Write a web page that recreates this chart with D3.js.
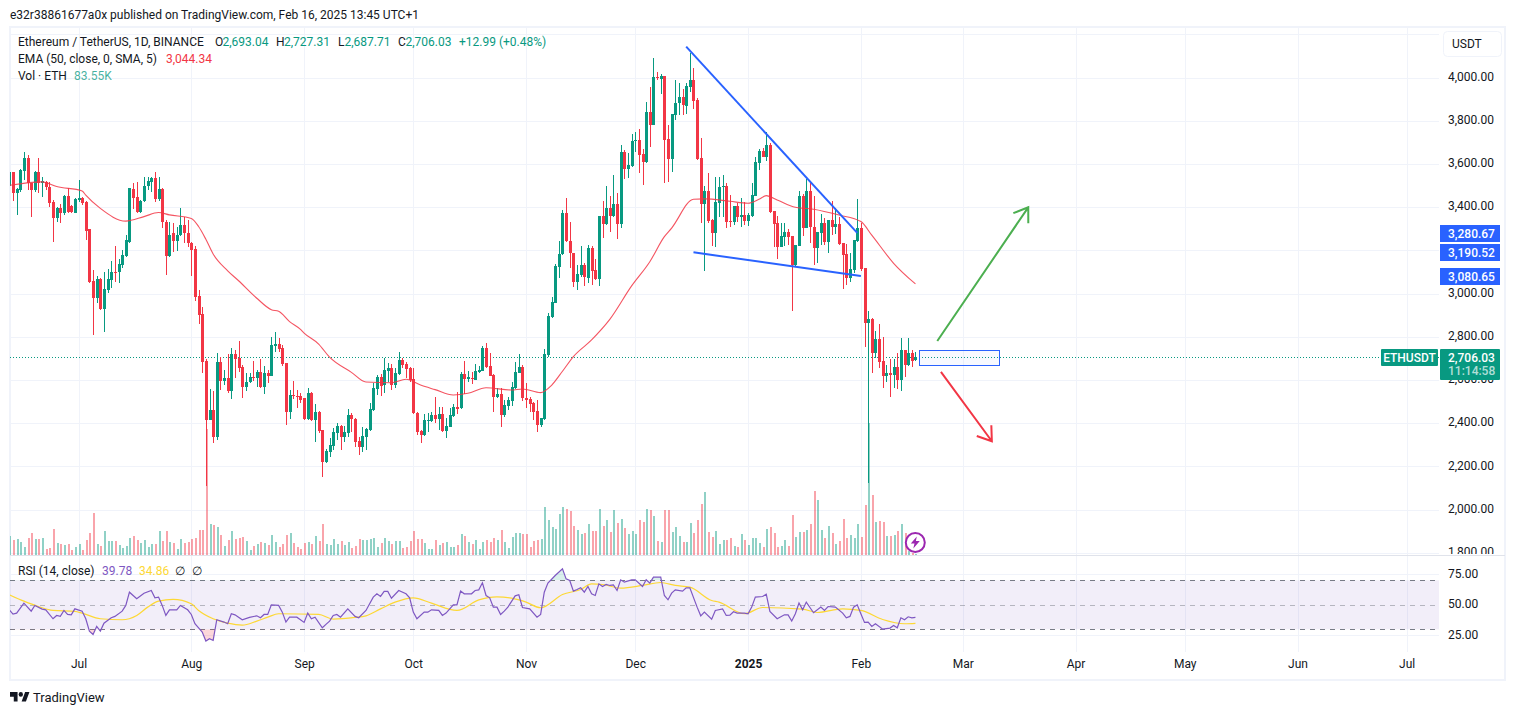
<!DOCTYPE html>
<html>
<head>
<meta charset="utf-8">
<title>ETHUSDT</title>
<script src="https://cdn.jsdelivr.net/npm/d3@7"></script>
<style>
	html, body { margin: 0; padding: 0; background: #fff; overflow: hidden; }
	svg { display: block; }
	text { font-family: Roboto, "Noto Sans", sans-serif; font-size: 12px; fill: #131722; }
</style>
</head>
<body>
<svg id="chart" width="1515" height="715"></svg>
<script>
// ========== DATA ==========
// first bar is Jun 12 2024, one per day, last is Feb 16 2025
var firstBar = -1;
var opens = [3498,
	3561,3467,3479,3569,3626,3513,3479,3561,3512,3518,3495,3425,3348,3394,3371,3451,3405,3375,3433,3441,
	3425,3297,3059,2981,3066,2928,3016,3062,3100,3098,3132,3175,3240,3484,3445,3379,3428,3498,3518,3535,
	3438,3484,3333,3175,3279,3245,3271,3317,3279,3232,3206,2988,2905,2689,2414,2461,2337,2683,2597,2609,
	2549,2720,2703,2660,2567,2589,2613,2609,2637,2566,2632,2620,2757,2766,2749,2678,2453,2529,2526,2526,
	2515,2419,2538,2414,2451,2368,2220,2268,2296,2355,2387,2334,2356,2438,2419,2317,2291,2337,2368,2461,
	2558,2613,2576,2643,2655,2576,2629,2692,2674,2653,2603,2447,2364,2343,2410,2411,2438,2419,2442,2364,
	2384,2434,2476,2468,2627,2604,2610,2600,2635,2641,2746,2664,2623,2522,2536,2438,2481,2503,2563,2634,
	2661,2516,2512,2495,2456,2391,2419,2715,2889,2957,3124,3182,3374,3243,3186,3055,3086,3132,3073,3209,
	3109,3069,3359,3322,3397,3360,3414,3323,3655,3578,3590,3706,3710,3644,3609,3840,3782,4002,3993,4007,
	3715,3624,3828,3880,3910,3870,3956,3988,3896,3627,3414,3474,3340,3282,3421,3493,3498,3336,3333,3405,
	3356,3362,3336,3359,3451,3604,3658,3633,3686,3382,3326,3217,3262,3285,3265,3130,3220,3451,3305,3476,
	3309,3212,3281,3325,3238,3340,3308,3323,3232,3183,3073,3109,3243,3303,3118,2865,2880,2726,2789,2687,
	2618,2632,2623,2660,2600,2738,2669,2724,2693.04];
var highs = [3561,
	3561,3490,3575,3655,3640,3513,3565,3627,3541,3520,3518,3433,3400,3415,3455,3487,3410,3442,3525,3445,
	3428,3300,3109,3081,3072,3098,3112,3150,3220,3160,3201,3271,3490,3513,3515,3432,3541,3541,3541,3561,
	3541,3490,3340,3333,3325,3310,3394,3356,3340,3240,3220,3016,2936,2695,2558,2549,2726,2705,2646,2720,
	2749,2738,2780,2667,2630,2630,2689,2645,2697,2664,2646,2799,2822,2794,2762,2680,2553,2595,2553,2538,
	2515,2561,2545,2488,2455,2370,2280,2330,2376,2402,2390,2387,2465,2445,2422,2337,2384,2376,2492,2584,
	2623,2626,2703,2677,2674,2655,2728,2703,2684,2661,2654,2450,2368,2442,2445,2450,2521,2476,2476,2422,
	2468,2488,2546,2638,2688,2643,2638,2674,2666,2757,2769,2723,2626,2561,2561,2507,2522,2592,2684,2720,
	2669,2584,2522,2498,2507,2425,2743,2911,2985,3136,3243,3387,3441,3333,3186,3132,3220,3140,3225,3220,
	3158,3359,3428,3498,3451,3549,3464,3686,3664,3649,3737,3749,3762,3669,3887,3956,4089,4024,4016,4007,
	3780,3831,3988,3973,3945,3976,4112,4042,3904,3718,3498,3559,3345,3541,3541,3549,3513,3456,3405,3417,
	3441,3425,3371,3510,3630,3667,3672,3746,3698,3382,3359,3325,3325,3297,3265,3225,3476,3460,3528,3510,
	3451,3285,3370,3348,3340,3430,3394,3356,3232,3230,3186,3246,3436,3325,3118,2919,2885,2826,2857,2800,
	2669,2697,2695,2723,2792,2738,2792,2738,2727.31];
var lows = [3490,
	3428,3363,3470,3525,3479,3356,3470,3464,3448,3480,3402,3240,3333,3328,3365,3371,3375,3371,3425,3410,
	3248,3050,2808,2958,2924,2823,3004,3027,3055,3047,3117,3167,3235,3390,3371,3371,3425,3480,3471,3425,
	3430,3302,3086,3170,3194,3197,3265,3235,3217,3081,2965,2859,2633,2111,2414,2310,2322,2553,2576,2541,
	2513,2609,2638,2518,2550,2585,2597,2565,2561,2536,2584,2618,2731,2728,2664,2391,2419,2510,2472,2495,
	2415,2414,2410,2311,2353,2152,2215,2242,2275,2322,2275,2314,2337,2360,2291,2252,2268,2275,2365,2458,
	2530,2527,2541,2589,2553,2561,2625,2654,2607,2592,2442,2345,2309,2342,2360,2407,2399,2368,2360,2330,
	2380,2430,2442,2465,2535,2592,2581,2598,2633,2640,2654,2618,2451,2515,2383,2430,2461,2481,2560,2630,
	2504,2468,2453,2414,2360,2384,2415,2708,2885,2955,3070,3178,3240,3117,3032,3016,3078,3035,3047,3040,
	3063,3035,3259,3317,3286,3356,3254,3302,3532,3536,3585,3657,3556,3504,3605,3680,3780,3988,3924,3513,
	3518,3564,3803,3826,3826,3831,3934,3853,3618,3325,3106,3325,3220,3217,3356,3356,3305,3309,3317,3333,
	3309,3317,3312,3356,3450,3572,3630,3615,3375,3214,3161,3215,3220,3225,2921,3124,3218,3266,3303,3232,
	3132,3140,3225,3225,3189,3271,3274,3225,3021,3039,3055,3093,3240,3106,2754,2124,2634,2700,2657,2564,
	2592,2522,2561,2556,2550,2615,2664,2661,2687.71];
var closes = [3561,
	3467,3484,3572,3626,3510,3479,3561,3510,3520,3495,3420,3348,3394,3371,3451,3379,3379,3438,3441,3420,
	3291,3055,2981,3066,2928,3019,3066,3098,3096,3137,3178,3250,3487,3441,3379,3428,3498,3521,3535,3438,
	3484,3333,3175,3270,3245,3271,3317,3279,3232,3201,2985,2900,2684,2414,2461,2337,2683,2597,2609,2549,
	2720,2697,2657,2567,2589,2613,2609,2637,2566,2632,2618,2762,2766,2743,2674,2453,2530,2526,2523,2507,
	2419,2538,2414,2450,2363,2220,2271,2299,2359,2387,2337,2359,2438,2418,2314,2291,2340,2373,2465,2562,
	2613,2573,2646,2655,2576,2632,2692,2669,2650,2600,2445,2359,2345,2414,2414,2438,2419,2442,2364,2388,
	2438,2473,2465,2627,2604,2613,2604,2643,2646,2749,2658,2620,2522,2536,2438,2484,2507,2567,2637,2661,
	2515,2507,2490,2453,2391,2422,2720,2896,2961,3127,3182,3374,3243,3186,3055,3090,3132,3078,3209,3106,
	3069,3359,3322,3397,3360,3414,3323,3655,3578,3594,3706,3710,3641,3609,3840,3782,4002,3999,4007,3712,
	3624,3831,3880,3910,3871,3961,3988,3891,3621,3414,3474,3336,3282,3424,3493,3498,3333,3333,3405,3356,
	3362,3336,3362,3454,3609,3658,3633,3686,3379,3323,3217,3265,3285,3262,3130,3225,3451,3304,3476,3306,
	3212,3285,3325,3238,3340,3308,3323,3229,3178,3073,3112,3246,3303,3115,2865,2880,2726,2789,2684,2618,
	2632,2623,2660,2600,2738,2669,2724,2689,2706.03];
// volume in thousands of ETH
var volumes = [440,
	360,373,327,227,407,507,380,380,393,173,193,580,307,280,253,280,160,213,280,160,
	360,507,907,280,240,540,340,340,340,260,207,240,393,447,360,307,360,227,280,280,
	540,340,540,313,293,180,380,293,320,380,407,560,560,2580,680,660,627,460,240,360,
	540,380,393,420,340,160,247,280,327,307,260,460,327,213,280,460,500,307,213,173,
	293,320,280,440,340,680,280,260,373,273,333,260,320,193,240,380,360,360,373,393,
	227,293,393,340,273,340,340,207,227,340,540,380,380,293,180,180,360,260,307,313,
	227,213,260,473,447,327,280,360,180,320,360,320,407,360,560,313,200,420,500,500,
	473,480,220,340,360,380,1020,760,620,580,880,1014,980,940,640,560,480,500,680,540,
	540,980,640,760,520,960,700,780,600,480,540,480,760,720,980,960,840,340,320,960,
	960,520,620,440,320,320,700,500,760,1080,1320,520,420,540,280,360,360,400,240,213,
	480,360,260,400,400,300,220,580,620,500,220,233,360,240,860,420,520,520,560,680,
	1340,1160,560,400,640,500,280,340,780,400,453,400,680,427,1060,2700,1260,720,740,720,
	440,440,460,540,680,507,133,93,83.55];

// EMA 50, as bar number and value
var emaBars = [-1,8,12,19,20,24,31,36,40,43,49,51,53,55,59,62,67,71,73,76,79,80,84,87,93,97,104,108,112,116,121,125,130,137,140,145,148,151,154,159,164,170,175,179,181,187,190,197,202,205,207,210,215,220,227,233,236,242,248];
var emaValues = [3501,3517,3495,3475,3455,3394,3335,3356,3375,3364,3347,3310,3251,3183,3105,3059,2978,2925,2918,2870,2834,2817,2766,2705,2635,2590,2587,2603,2576,2555,2530,2538,2564,2553,2558,2541,2575,2640,2708,2785,2880,3035,3147,3263,3303,3436,3438,3427,3418,3436,3453,3433,3399,3390,3363,3333,3270,3140,3044.34];

var rsiBars = [-1,0,1,3,5,6,8,9,11,12,13,14,15,16,17,19,20,21,22,23,24,25,27,28,30,31,32,34,36,38,39,40,41,42,43,45,46,48,49,50,51,52,53,54,55,56,58,59,60,61,63,65,67,68,69,70,71,73,74,75,76,78,80,81,82,83,85,86,87,88,89,90,92,94,95,97,99,100,101,102,103,104,106,108,109,110,111,113,114,115,117,118,119,121,122,123,124,126,127,128,129,130,131,132,133,134,135,136,138,139,140,142,144,145,146,147,149,151,152,153,154,155,156,157,158,159,160,161,162,163,164,165,166,167,168,170,171,173,174,175,176,178,179,180,181,182,184,185,186,188,189,190,192,193,195,196,197,198,199,201,202,203,204,206,207,208,210,212,213,214,215,216,217,218,220,222,223,224,226,228,229,230,231,232,233,234,235,236,237,239,241,242,243,244,245,246,247,248];
var rsiValues = [45.9,42.4,43.2,51.4,44.8,49.5,46.5,45.9,38.6,41.3,40.5,45.4,42.1,41.8,46.7,44.8,38.6,28.5,25.8,32.3,28.5,35,39.4,40.5,44.8,49.5,60.3,54.9,59.5,61.7,55.7,56.3,49.5,41.3,45.9,45.9,49.5,45.9,42.1,34.5,31.2,27.7,20.4,22.3,20.9,37.8,35.9,34.5,42.7,41.8,37.8,39.7,41,39.4,42.1,42.1,50,49.5,44,35.9,39.9,39.9,35.6,43.2,38.6,39.9,31.2,34,36.7,41.3,42.1,39.9,46.7,40.5,39.4,45.4,56.3,59,56.8,60.9,60.9,55.4,61.7,59,55.7,44,38.6,44,44,45.9,45.4,41.3,43.2,50,50,61.2,59,59,61.7,62.2,68,57.6,55.7,48.1,48.1,42.1,44.8,48.1,57.3,58.2,47.8,46.7,39.9,42.1,60.3,67.7,73.9,79.4,71.2,69.9,61.2,62.5,63.9,60.3,65,59,57.6,67.1,65,66.6,65.8,66.3,61.7,70.4,68.5,70.4,70.4,65,70.4,67.7,72.6,72.6,57.6,54.1,59.5,62.2,61.2,63.9,63.9,48.1,41,44,38.3,45.4,46.7,41.3,41.6,44.3,43.2,43.2,42.7,48.1,56.3,56.8,58.7,44.6,38.6,41.8,41.8,36.7,42.7,51.4,45.9,52.2,43.5,48.1,45.4,48.6,48.1,43.2,39.4,40.5,48.1,50,42.7,35.6,35.9,32.3,34.5,30.1,31,33.1,31.2,39.4,37.8,40.2,39.4,39.78];
var rsiMaBars = [-1,3,7,11,17,19,24,30,34,37,40,44,49,51,55,59,63,67,70,73,84,88,94,97,101,105,110,115,122,128,133,137,141,145,151,156,159,162,167,173,178,182,186,192,194,201,206,217,221,228,233,239,245,248];
var rsiMaValues = [58.2,53,48.6,45.4,44.6,43.2,38.6,37.8,41.3,48.1,53,54.4,50.8,45.4,38.6,35,33.4,36.7,39.9,42.7,42.1,38.3,39.7,41,46.7,52.2,55.7,51.4,45.4,54,56.5,55.4,52.2,47.6,58.4,62.5,67.1,66.6,63.6,65.8,68.2,65.8,64.4,53.5,52.2,42.7,47.8,46.5,43.7,46.7,45.4,38,34.5,34.86];

var priceTicks = [1800,2000,2200,2400,2600,2800,3000,3200,3400,3600,3800,4000];
var priceGrid = [1800,2000,2200,2400,2600,2800,3000,3200,3400,3600,3800,4000,4200];
var rsiTicks = [25,50,75];
var monthBars = [18,49,80,110,141,171,202,233,261,292,322,353,383];
var monthLabels = ['Jul','Aug','Sep','Oct','Nov','Dec','2025','Feb','Mar','Apr','May','Jun','Jul'];

// drawings: bar number and price of each end
var trendTop = [[185,4142.6],[232,3280.67]];
var trendBottom = [[187,3190.52],[233,3080.65]];
var boxBars = [249,271];
var boxPrices = [2737,2670];
var arrowUp = [[254,2780],[279,3399]];
var arrowDown = [[255,2637],[269,2316]];
var priceTags = [3280.67,3190.52,3080.65];
var lastPrice = 2706.03;

// ========== CONSTANTS ==========
var up = '#089981';
var down = '#f23645';
var blue = '#2962ff';
var grid = '#f0f3fa';
var ink = '#131722';
var plotLeft = 10;
var plotRight = 1439;
var frameRight = 1505;
var priceTop = 27;
var priceBottom = 555;
var rsiBottom = 652;

var fmt = d3.format(',.2f');

var x = d3.scaleLinear().domain([0, 383]).range([13, 1406.7]);
var y = d3.scaleLinear().domain([4000, 1800]).range([77.5, 552.7]);
var yVol = d3.scaleLinear().domain([60, 2700]).range([555, 423]);
var yRsi = d3.scaleLinear().domain([75, 25]).range([574.2, 635.4]);

var svg = d3.select('#chart');
var defs = svg.append('defs');
defs.append('clipPath').attr('id', 'clipPrice').append('rect')
	.attr('x', plotLeft).attr('y', priceTop).attr('width', plotRight - plotLeft).attr('height', priceBottom - priceTop);
defs.append('clipPath').attr('id', 'clipRsi').append('rect')
	.attr('x', plotLeft).attr('y', 556).attr('width', plotRight - plotLeft).attr('height', rsiBottom - 556);
defs.append('clipPath').attr('id', 'clipAbove').append('rect')
	.attr('x', plotLeft).attr('y', 556).attr('width', plotRight - plotLeft).attr('height', yRsi(70) - 556);
defs.append('clipPath').attr('id', 'clipBelow').append('rect')
	.attr('x', plotLeft).attr('y', yRsi(30)).attr('width', plotRight - plotLeft).attr('height', rsiBottom - yRsi(30));
defs.append('clipPath').attr('id', 'clipAxis').append('rect')
	.attr('x', 0).attr('y', priceTop).attr('width', 65).attr('height', priceBottom - priceTop);

// ========== FRAME AND GRID ==========
svg.append('rect')
	.attr('x', 10).attr('y', 27).attr('width', frameRight - 10).attr('height', 653)
	.attr('fill', '#fff').attr('stroke', grid).attr('stroke-width', 2);

svg.append('g').selectAll('line')
	.data(monthBars).enter().append('line')
	.attr('x1', function(d) { return Math.round(x(d)) + 0.5; })
	.attr('x2', function(d) { return Math.round(x(d)) + 0.5; })
	.attr('y1', priceTop).attr('y2', rsiBottom)
	.attr('stroke', grid);

svg.append('g').selectAll('line')
	.data(priceGrid).enter().append('line')
	.attr('x1', plotLeft).attr('x2', plotRight)
	.attr('y1', function(d) { return Math.round(y(d)) + 0.5; })
	.attr('y2', function(d) { return Math.round(y(d)) + 0.5; })
	.attr('stroke', grid);

svg.append('g').selectAll('line')
	.data(rsiTicks.filter(function(d) { return d !== 50; })).enter().append('line')
	.attr('x1', plotLeft).attr('x2', plotRight)
	.attr('y1', function(d) { return Math.round(yRsi(d)) + 0.5; })
	.attr('y2', function(d) { return Math.round(yRsi(d)) + 0.5; })
	.attr('stroke', grid);

// pane separator
svg.append('line')
	.attr('x1', plotLeft).attr('x2', frameRight)
	.attr('y1', 555.5).attr('y2', 555.5)
	.attr('stroke', '#e0e3eb');

// ========== CANDLES ==========
var bars = opens.map(function(o, k) {
	return { i: k + firstBar, o: o, h: highs[k], l: lows[k], c: closes[k], v: volumes[k] };
});
function cx(d) { return Math.round(x(d.i)); }

var pricePane = svg.append('g').attr('clip-path', 'url(#clipPrice)');

// volume sits behind the candles
pricePane.append('g').selectAll('rect')
	.data(bars).enter().append('rect')
	.attr('x', function(d) { return cx(d); })
	.attr('width', 2)
	.attr('y', function(d) { return yVol(d.v); })
	.attr('height', function(d) { return 555 - yVol(d.v); })
	.attr('fill', function(d) { return d.c >= d.o ? up : down; })
	.attr('fill-opacity', 0.45)
	.attr('shape-rendering', 'crispEdges');

// last price line
pricePane.append('line')
	.attr('x1', plotLeft).attr('x2', plotRight)
	.attr('y1', Math.round(y(lastPrice)) + 0.5).attr('y2', Math.round(y(lastPrice)) + 0.5)
	.attr('stroke', up)
	.attr('stroke-dasharray', '1,2');

// box drawing
pricePane.append('rect')
	.attr('x', Math.round(x(boxBars[0])) + 0.5)
	.attr('y', Math.round(y(boxPrices[0])) + 0.5)
	.attr('width', Math.round(x(boxBars[1])) - Math.round(x(boxBars[0])))
	.attr('height', Math.round(y(boxPrices[1])) - Math.round(y(boxPrices[0])))
	.attr('fill', blue).attr('fill-opacity', 0.04)
	.attr('stroke', blue);

pricePane.append('g').selectAll('rect')
	.data(bars).enter().append('rect')
	.attr('x', function(d) { return cx(d); })
	.attr('width', 1)
	.attr('y', function(d) { return y(d.h); })
	.attr('height', function(d) { return y(d.l) - y(d.h); })
	.attr('fill', function(d) { return d.c >= d.o ? up : down; })
	.attr('shape-rendering', 'crispEdges');

pricePane.append('g').selectAll('rect')
	.data(bars).enter().append('rect')
	.attr('x', function(d) { return cx(d) - 1; })
	.attr('width', 3)
	.attr('y', function(d) { return Math.round(y(Math.max(d.o, d.c))); })
	.attr('height', function(d) { return Math.max(1, Math.round(y(Math.min(d.o, d.c))) - Math.round(y(Math.max(d.o, d.c)))); })
	.attr('fill', function(d) { return d.c >= d.o ? up : down; })
	.attr('shape-rendering', 'crispEdges');

// ema
var emaLine = d3.line()
	.x(function(d) { return x(d); })
	.y(function(d, k) { return y(emaValues[k]); })
	.curve(d3.curveMonotoneX);
pricePane.append('path')
	.attr('d', emaLine(emaBars))
	.attr('fill', 'none')
	.attr('stroke', down)
	.attr('stroke-opacity', 0.85)
	.attr('stroke-width', 1.1);

// trend lines
[trendTop, trendBottom].forEach(function(t) {
	pricePane.append('line')
		.attr('x1', x(t[0][0])).attr('y1', y(t[0][1]))
		.attr('x2', x(t[1][0])).attr('y2', y(t[1][1]))
		.attr('stroke', blue).attr('stroke-width', 2);
});

// arrows
function drawArrow(a, color) {
	var x1 = x(a[0][0]), y1 = y(a[0][1]), x2 = x(a[1][0]), y2 = y(a[1][1]);
	var ang = Math.atan2(y2 - y1, x2 - x1);
	var len = 16;
	var spread = 0.6;
	var path = d3.path();
	path.moveTo(x1, y1);
	path.lineTo(x2, y2);
	path.moveTo(x2 - len * Math.cos(ang - spread), y2 - len * Math.sin(ang - spread));
	path.lineTo(x2, y2);
	path.lineTo(x2 - len * Math.cos(ang + spread), y2 - len * Math.sin(ang + spread));
	pricePane.append('path')
		.attr('d', path.toString())
		.attr('fill', 'none')
		.attr('stroke', color).attr('stroke-width', 2);
}
drawArrow(arrowUp, '#4caf50');
drawArrow(arrowDown, down);

// flash icon at the end of the volume
var flash = svg.append('g').attr('transform', 'translate(915.3,542.5)');
flash.append('circle').attr('r', 9.5).attr('fill', '#fff').attr('stroke', '#9c27b0').attr('stroke-width', 2);
flash.append('path').attr('d', 'M1.5-6 L-4.5 1 L-0.8 1 L-2 6 L4.5-1.5 L0.6-1.5 Z').attr('fill', '#9c27b0');

// ========== RSI ==========
var rsiPane = svg.append('g').attr('clip-path', 'url(#clipRsi)');

rsiPane.append('rect')
	.attr('x', plotLeft).attr('width', plotRight - plotLeft)
	.attr('y', yRsi(70)).attr('height', yRsi(30) - yRsi(70))
	.attr('fill', '#7e57c2').attr('fill-opacity', 0.1);

var levels = [70, 50, 30];
rsiPane.append('g').selectAll('line')
	.data(levels).enter().append('line')
	.attr('x1', plotLeft).attr('x2', plotRight)
	.attr('y1', function(d) { return Math.round(yRsi(d)) + 0.5; })
	.attr('y2', function(d) { return Math.round(yRsi(d)) + 0.5; })
	.attr('stroke', '#787b86')
	.attr('stroke-opacity', function(d) { return d === 50 ? 0.5 : 1; })
	.attr('stroke-dasharray', '5,5');

// shading where rsi leaves the band
var areaAbove = d3.area()
	.x(function(d) { return x(d); })
	.y0(yRsi(70))
	.y1(function(d, k) { return yRsi(rsiValues[k]); });
var areaBelow = d3.area()
	.x(function(d) { return x(d); })
	.y0(yRsi(30))
	.y1(function(d, k) { return yRsi(rsiValues[k]); });
rsiPane.append('path').attr('d', areaAbove(rsiBars))
	.attr('fill', up).attr('fill-opacity', 0.15).attr('clip-path', 'url(#clipAbove)');
rsiPane.append('path').attr('d', areaBelow(rsiBars))
	.attr('fill', down).attr('fill-opacity', 0.2).attr('clip-path', 'url(#clipBelow)');

rsiPane.append('path')
	.attr('d', d3.line().x(function(d) { return x(d); }).y(function(d, k) { return yRsi(rsiMaValues[k]); }).curve(d3.curveMonotoneX)(rsiMaBars))
	.attr('fill', 'none').attr('stroke', '#fdd835').attr('stroke-width', 1.2);
rsiPane.append('path')
	.attr('d', d3.line().x(function(d) { return x(d); }).y(function(d, k) { return yRsi(rsiValues[k]); })(rsiBars))
	.attr('fill', 'none').attr('stroke', '#7e57c2').attr('stroke-width', 1.2);

// ========== AXES ==========
var priceAxis = svg.append('g')
	.attr('transform', 'translate(1440,-1)')
	.attr('clip-path', 'url(#clipAxis)')
	.call(d3.axisRight(y).tickValues(priceTicks).tickSize(0).tickPadding(8).tickFormat(fmt));

var rsiAxis = svg.append('g')
	.attr('transform', 'translate(1440,-1)')
	.call(d3.axisRight(yRsi).tickValues(rsiTicks).tickSize(0).tickPadding(8).tickFormat(d3.format('.2f')));

var timeAxis = svg.append('g')
	.attr('transform', 'translate(0,659)')
	.call(d3.axisBottom(x).tickValues(monthBars).tickSize(0).tickPadding(0)
		.tickFormat(function(d, k) { return monthLabels[k]; }));

[priceAxis, rsiAxis, timeAxis].forEach(function(a) {
	a.select('.domain').remove();
	a.attr('font-family', null).attr('font-size', null);
	a.selectAll('text').attr('fill', null);
});
timeAxis.selectAll('text').style('font-weight', function(d, k) { return monthLabels[k] === '2025' ? 'bold' : null; });

// ========== TAGS ==========
var tagX = 1440;
var tagW = 60;
var tags = svg.append('g').selectAll('g')
	.data(priceTags).enter().append('g');
tags.append('rect')
	.attr('x', tagX).attr('width', tagW)
	.attr('y', function(d) { return Math.round(y(d)) - 8; }).attr('height', 17)
	.attr('fill', blue);
tags.append('text')
	.attr('x', tagX + 8).attr('y', function(d) { return Math.round(y(d)) + 4.5; })
	.style('fill', '#fff').style('font-weight', 500)
	.text(fmt);

var lastY = Math.round(y(lastPrice));
svg.append('rect').attr('x', tagX).attr('y', lastY - 8).attr('width', tagW).attr('height', 31).attr('rx', 1).attr('fill', up);
svg.append('text').attr('x', tagX + 8).attr('y', lastY + 4.5).style('fill', '#fff').style('font-weight', 500).text(fmt(lastPrice));
svg.append('text').attr('x', tagX + 8).attr('y', lastY + 18).style('fill', '#fff').style('fill-opacity', 0.7).style('font-weight', 500).text('11:14:58');
svg.append('rect').attr('x', 1381).attr('y', lastY - 8).attr('width', 57).attr('height', 17).attr('rx', 1).attr('fill', up);
svg.append('text').attr('x', 1409.5).attr('y', lastY + 4.5).attr('text-anchor', 'middle').style('fill', '#fff').style('font-weight', 500).text('ETHUSDT');

// currency button
svg.append('rect')
	.attr('x', 1443.5).attr('y', 31.5).attr('width', 58).attr('height', 25).attr('rx', 4)
	.attr('fill', '#fff').attr('stroke', grid);
svg.append('text').attr('x', 1452).attr('y', 48).text('USDT');

// ========== TEXT ==========
svg.append('text').attr('x', 10).attr('y', 19)
	.text('e32r38861677a0x published on TradingView.com, Feb 16, 2025 13:45 UTC+1');

function legendLine(yPos, parts) {
	var t = svg.append('text').attr('y', yPos);
	parts.forEach(function(p) {
		t.append('tspan').attr('x', p[2]).style('fill', p[1]).style('fill-opacity', p[3] || 1).text(p[0]);
	});
}
legendLine(46, [
	['Ethereum / TetherUS, 1D, BINANCE', ink, 18],
	['O', ink, 215], ['2,693.04', up, 222.5],
	['H', ink, 276], ['2,727.31', up, 284],
	['L', ink, 338], ['2,687.71', up, 344.5],
	['C', ink, 398], ['2,706.03', up, 405.5],
	['+12.99 (+0.48%)', up, 459]
]);
legendLine(63, [['EMA (50, close, 0, SMA, 5)', ink, 18], ['3,044.34', down, 166]]);
legendLine(80, [['Vol \u00b7 ETH', ink, 18], ['83.55K', up, 74, 0.75]]);
legendLine(575, [
	['RSI (14, close)', ink, 18], ['39.78', '#7e57c2', 102], ['34.86', '#fdd835', 139],
	['\u2205', ink, 175], ['\u2205', ink, 192]
]);

// logo
var logo = svg.append('g').attr('transform', 'translate(10,688.4) scale(0.54,0.6)');
logo.append('path').attr('d', 'M14 6H0v8h7v8h7V6Z M36 6h-8l-6.5 16h8Z').attr('fill', ink);
logo.append('circle').attr('cx', 20).attr('cy', 10).attr('r', 4).attr('fill', ink);
svg.append('text').attr('x', 33).attr('y', 702).style('font-size', '13px').text('TradingView');
</script>
</body>
</html>
